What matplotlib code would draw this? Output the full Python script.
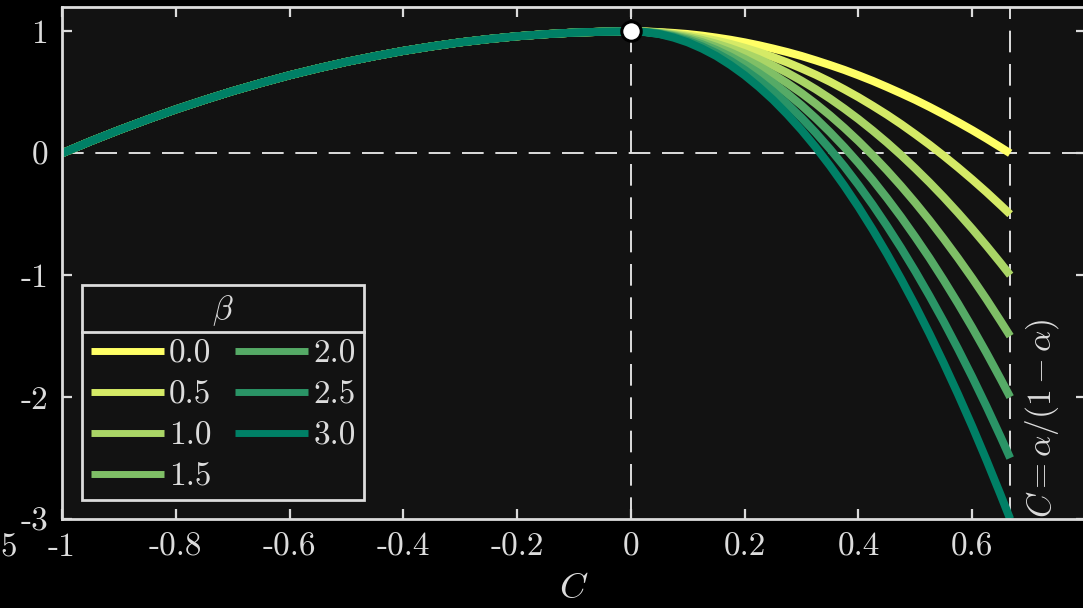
import numpy as np
import matplotlib
matplotlib.use("Agg")
import matplotlib.pyplot as plt
from matplotlib.lines import Line2D

plt.rcParams['font.family'] = 'serif'
plt.rcParams['font.serif'] = ['cmr10', 'DejaVu Serif']
plt.rcParams['mathtext.fontset'] = 'cm'
plt.rcParams['axes.unicode_minus'] = False

betas = [0.0, 0.5, 1.0, 1.5, 2.0, 2.5, 3.0]

# C < 0 : all curves lie on top of each other
C_left = [-1.0, -0.95, -0.9, -0.85, -0.8, -0.75, -0.7, -0.65, -0.6, -0.55,
          -0.5, -0.45, -0.4, -0.35, -0.3, -0.25, -0.2, -0.15, -0.1, -0.05]
y_left = [0.0, 0.098, 0.19, 0.277, 0.36, 0.437, 0.51, 0.577, 0.64, 0.697,
          0.75, 0.797, 0.84, 0.877, 0.91, 0.937, 0.96, 0.977, 0.99, 0.997]

# C >= 0 : one row per beta
C_right = [0.0, 0.025, 0.05, 0.075, 0.1, 0.125, 0.15, 0.175, 0.2, 0.225, 0.25, 0.275,
           0.3, 0.325, 0.35, 0.375, 0.4, 0.425, 0.45, 0.475, 0.5, 0.525, 0.55, 0.575,
           0.6, 0.625, 0.65, 0.6667]
y_right = [
    [1.0, 0.999, 0.994, 0.987, 0.978, 0.965, 0.949, 0.931, 0.910, 0.886, 0.859, 0.830,
     0.798, 0.762, 0.724, 0.684, 0.640, 0.594, 0.544, 0.492, 0.438, 0.380, 0.319, 0.256,
     0.190, 0.121, 0.049, 0.0],
    [1.0, 0.998, 0.992, 0.981, 0.966, 0.947, 0.924, 0.897, 0.865, 0.829, 0.789, 0.745,
     0.696, 0.644, 0.587, 0.525, 0.460, 0.390, 0.317, 0.239, 0.156, 0.070, -0.021, -0.116,
     -0.215, -0.318, -0.426, -0.5],
    [1.0, 0.997, 0.989, 0.975, 0.955, 0.930, 0.899, 0.862, 0.820, 0.772, 0.719, 0.660,
     0.595, 0.525, 0.449, 0.367, 0.280, 0.187, 0.089, -0.015, -0.125, -0.240, -0.361, -0.488,
     -0.620, -0.758, -0.901, -1.0],
    [1.0, 0.996, 0.986, 0.968, 0.944, 0.912, 0.873, 0.828, 0.775, 0.715, 0.648, 0.575,
     0.494, 0.406, 0.311, 0.209, 0.100, -0.016, -0.139, -0.269, -0.406, -0.550, -0.702, -0.860,
     -1.025, -1.197, -1.377, -1.5],
    [1.0, 0.996, 0.983, 0.962, 0.933, 0.895, 0.848, 0.793, 0.730, 0.658, 0.578, 0.490,
     0.393, 0.287, 0.173, 0.051, -0.080, -0.219, -0.367, -0.523, -0.688, -0.860, -1.042, -1.232,
     -1.430, -1.637, -1.852, -2.0],
    [1.0, 0.995, 0.980, 0.956, 0.921, 0.877, 0.823, 0.759, 0.685, 0.601, 0.508, 0.404,
     0.291, 0.168, 0.035, -0.107, -0.260, -0.422, -0.595, -0.777, -0.969, -1.171, -1.382, -1.604,
     -1.835, -2.076, -2.327, -2.5],
    [1.0, 0.994, 0.978, 0.949, 0.910, 0.859, 0.798, 0.724, 0.640, 0.544, 0.438, 0.319,
     0.190, 0.049, -0.103, -0.266, -0.440, -0.626, -0.823, -1.031, -1.250, -1.481, -1.723, -1.976,
     -2.240, -2.516, -2.803, -3.0],
]
C_crit = 0.6667

xticks = [-1, -0.8, -0.6, -0.4, -0.2, 0, 0.2, 0.4, 0.6]
xticklabels = ['-1', '-0.8', '-0.6', '-0.4', '-0.2', '0', '0.2', '0.4', '0.6']
yticks = [-3, -2, -1, 0, 1]
yticklabels = ['-3', '-2', '-1', '0', '1']

fg = '#dcdcdc'
fs = 24
fig = plt.figure(figsize=(10.83, 6.08), dpi=100, facecolor='black')
ax = fig.add_axes([62/1083, 89/608, 1024/1083, 512/608])
ax.set_facecolor('#121212')

dash = dict(color='white', lw=1.2, dashes=(13, 7), zorder=1)
ax.axhline(0, **dash)
ax.axvline(0, **dash)
ax.axvline(C_crit, **dash)

cmap = plt.get_cmap('summer_r')
for i, b in enumerate(betas):
    x = C_left + C_right
    y = y_left + y_right[i]
    ax.plot(x, y, color=cmap(b / 3), lw=5.8, solid_capstyle='butt', label='%.1f' % b, zorder=2)

ax.plot([0], [1], 'o', ms=14, mfc='white', mec='black', mew=2.2, zorder=5)

ax.text(0.722, -2.99, r'$C = \alpha/(1-\alpha)$', rotation=90, color=fg,
        fontsize=fs, ha='center', va='bottom')

ax.set_xlim(-1, 0.8)
ax.set_ylim(-3, 1.2)
ax.set_xticks(xticks)
ax.set_xticklabels(xticklabels)
ax.set_yticks(yticks)
ax.set_yticklabels(yticklabels)
ax.tick_params(direction='in', length=7, width=1.6, colors=fg, labelsize=fs,
               top=True, right=True, pad=10)
for s in ax.spines.values():
    s.set_color(fg)
    s.set_linewidth(2)
ax.set_xlabel('$C$', color=fg, fontsize=26, labelpad=8)

leg = ax.legend(ncol=2, title=r'$\beta$', loc='lower left', bbox_to_anchor=(0.02, 0.037),
                borderaxespad=0, fancybox=False, fontsize=fs, title_fontsize=fs,
                handlelength=2.2, handletextpad=0.15, columnspacing=0.7,
                labelspacing=0.35, borderpad=0.25, framealpha=1)
leg.get_frame().set_facecolor('#121212')
leg.get_frame().set_edgecolor(fg)
leg.get_frame().set_linewidth(2)
for t in leg.get_texts():
    t.set_color(fg)
leg.get_title().set_color(fg)
for h in leg.legend_handles:
    h.set_linewidth(5)

# line under the legend title
fig.canvas.draw()
fb = leg.get_frame().get_window_extent()
tb = leg.get_title().get_window_extent()
rb = leg.get_texts()[0].get_window_extent()
ysep = 0.5 * ((tb.y0 + tb.y1) / 2 + (rb.y0 + rb.y1) / 2)
fig.add_artist(Line2D([fb.x0 / 1083, fb.x1 / 1083], [ysep / 608, ysep / 608],
                      color=fg, lw=2, transform=fig.transFigure))

# stray label of the neighbouring panel
fig.text(0.5 / 1083, 60 / 608, '5', color=fg, fontsize=fs, ha='left', va='center')

fig.savefig('out.png', dpi=100, facecolor='black')
